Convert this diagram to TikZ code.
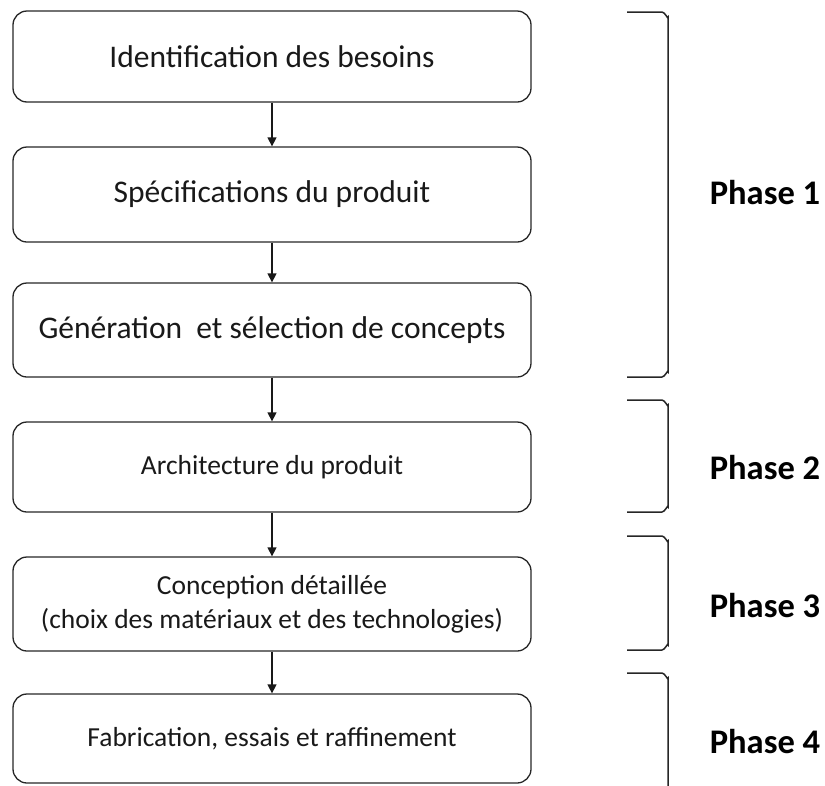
\documentclass[tikz,border=0pt]{standalone}
\usepackage{fontspec}
\setmainfont{Carlito}
\usetikzlibrary{arrows.meta}
\begin{document}
\begin{tikzpicture}[x=1pt,y=-1pt,
  box/.style={draw=black!85, line width=1.3pt, rounded corners=14pt, minimum width=518pt, inner sep=0pt, align=center, text=black!90},
  big/.style={font=\fontsize{31.5}{36}\selectfont},
  small/.style={font=\fontsize{27.5}{34}\selectfont},
  arr/.style={draw=black!90, line width=1.3pt, -{Triangle[length=9pt,width=9pt]}},
  brk/.style={draw=black!85, line width=1.5pt},
  phase/.style={font=\fontsize{34.5}{40}\selectfont\bfseries, text=black}]
\useasboundingbox (0,0) rectangle (825,785);
\node[box,big,minimum height=91pt] (b1) at (272,56.5) {Identification des besoins};
\node[box,big,minimum height=95pt] (b2) at (272,194.5) {Spécifications du produit};
\node[box,big,minimum height=94pt] (b3) at (272,330) {Génération~ et sélection de concepts};
\node[box,small,minimum height=90pt] (b4) at (272,467) {Architecture du produit};
\node[box,small,minimum height=94pt] (b5) at (272,604) {Conception détaillée\\(choix des matériaux et des technologies)};
\node[box,small,minimum height=89pt] (b6) at (272,738.5) {Fabrication, essais et raffinement};
\draw[arr] (b1.south) -- (b2.north);
\draw[arr] (b2.south) -- (b3.north);
\draw[arr] (b3.south) -- (b4.north);
\draw[arr] (b4.south) -- (b5.north);
\draw[arr] (b5.south) -- (b6.north);
% brackets
\draw[brk] (627,12) -- (662,12) to[out=0,in=-90] (668,17) -- (668,372) to[out=90,in=0] (662,377) -- (627,377);
\draw[brk] (627,400) -- (662,400) to[out=0,in=-90] (668,405) -- (668,507) to[out=90,in=0] (662,512) -- (627,512);
\draw[brk] (627,536) -- (662,536) to[out=0,in=-90] (668,541) -- (668,645) to[out=90,in=0] (662,650) -- (627,650);
\draw[brk] (627,673) -- (662,673) to[out=0,in=-90] (668,678) -- (668,800);
\node[phase] (p1) at (765,193) {Phase 1};
\node[phase] (p2) at (765,468) {Phase 2};
\node[phase] (p3) at (765,606) {Phase 3};
\node[phase] (p4) at (765,742) {Phase 4};
\end{tikzpicture}
\end{document}
